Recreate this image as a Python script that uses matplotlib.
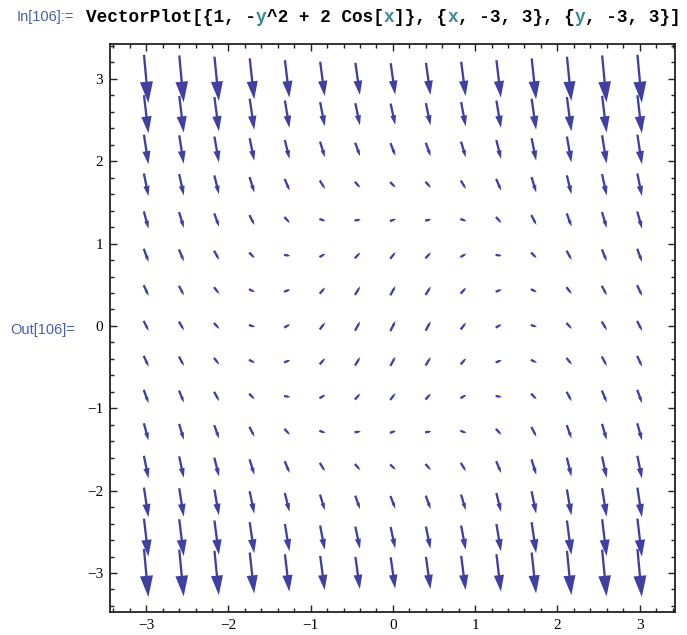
import matplotlib.pyplot as plt
from matplotlib.ticker import MultipleLocator

# grid of sample points (15 x 15 over [-3, 3])
grid_x = [-3.0, -2.571, -2.143, -1.714, -1.286, -0.857, -0.429, 0.0,
          0.429, 0.857, 1.286, 1.714, 2.143, 2.571, 3.0]
grid_y = [-3.0, -2.571, -2.143, -1.714, -1.286, -0.857, -0.429, 0.0,
          0.429, 0.857, 1.286, 1.714, 2.143, 2.571, 3.0]

# field {1, -y^2 + 2 Cos[x]} split into its x part and y part
two_cos_x = [-1.98, -1.684, -1.083, -0.286, 0.562, 1.309, 1.819, 2.0,
             1.819, 1.309, 0.562, -0.286, -1.083, -1.684, -1.98]
neg_y_sq = [-9.0, -6.612, -4.592, -2.939, -1.653, -0.735, -0.184, 0.0,
            -0.184, -0.735, -1.653, -2.939, -4.592, -6.612, -9.0]
u_comp = 1.0

tick_vals = [-3, -2, -1, 0, 1, 2, 3]

arrow_color = (0.25, 0.25, 0.64)
px_per_unit = 82.3

fig = plt.figure(figsize=(6.87, 6.35), dpi=100)
ax = fig.add_axes([110 / 687, 23.3 / 635, 565 / 687, 567.4 / 635])

for i, x in enumerate(grid_x):
    for j, y in enumerate(grid_y):
        u = u_comp
        v = neg_y_sq[j] + two_cos_x[i]
        mag = (u * u + v * v) ** 0.5
        L = (2.0 + 4.2 * mag) / px_per_unit
        dx, dy = u / mag * L, v / mag * L
        hl = 0.44 * L
        hw = max(0.27 * L, 0.03)
        ax.arrow(x - dx / 2, y - dy / 2, dx, dy, width=0.028,
                 head_width=hw, head_length=hl, length_includes_head=True,
                 color=arrow_color, lw=0)

ax.set_xlim(-3.44, 3.43)
ax.set_ylim(-3.47, 3.42)
ax.set_xticks(tick_vals)
ax.set_yticks(tick_vals)
ax.set_xticklabels([str(t).replace('-', '\u2212') for t in tick_vals])
ax.set_yticklabels([str(t).replace('-', '\u2212') for t in tick_vals])
ax.xaxis.set_minor_locator(MultipleLocator(0.2))
ax.yaxis.set_minor_locator(MultipleLocator(0.2))
ax.tick_params(which='both', direction='in', top=True, right=True,
               color='#222222', width=1.0)
ax.tick_params(which='major', length=5, labelsize=11, pad=5)
ax.tick_params(which='minor', length=3)
for lab in ax.get_xticklabels() + ax.get_yticklabels():
    lab.set_fontfamily('Liberation Serif')
for sp in ax.spines.values():
    sp.set_linewidth(1.3)
    sp.set_color('#222222')

# notebook cell labels
label_blue = '#4a5fa8'
fig.text(17 / 687, 1 - 17 / 635, 'In[106]:=', fontsize=10.5, color=label_blue,
         va='center', ha='left', family='Liberation Sans')
fig.text(10 / 687, 1 - 330 / 635, 'Out[106]=', fontsize=10.5, color=label_blue,
         va='center', ha='left', family='Liberation Sans')

# input line with coloured variables
pieces = [('VectorPlot[{1, -', 'black'), ('y', '#3a8a96'),
          ('^2 + 2 Cos[', 'black'), ('x', '#3a8a96'), (']}, {', 'black'),
          ('x', '#3a8a96'), (', -3, 3}, {', 'black'), ('y', '#3a8a96'),
          (', -3, 3}]', 'black')]
renderer = fig.canvas.get_renderer()
xpos = 86
for s, c in pieces:
    t = fig.text(xpos / 687, 1 - 17 / 635, s, fontsize=12.8, color=c,
                 family='Liberation Mono', weight='bold', va='center', ha='left')
    bb = t.get_window_extent(renderer)
    xpos = bb.x1

fig.savefig('out.png', dpi=100)
